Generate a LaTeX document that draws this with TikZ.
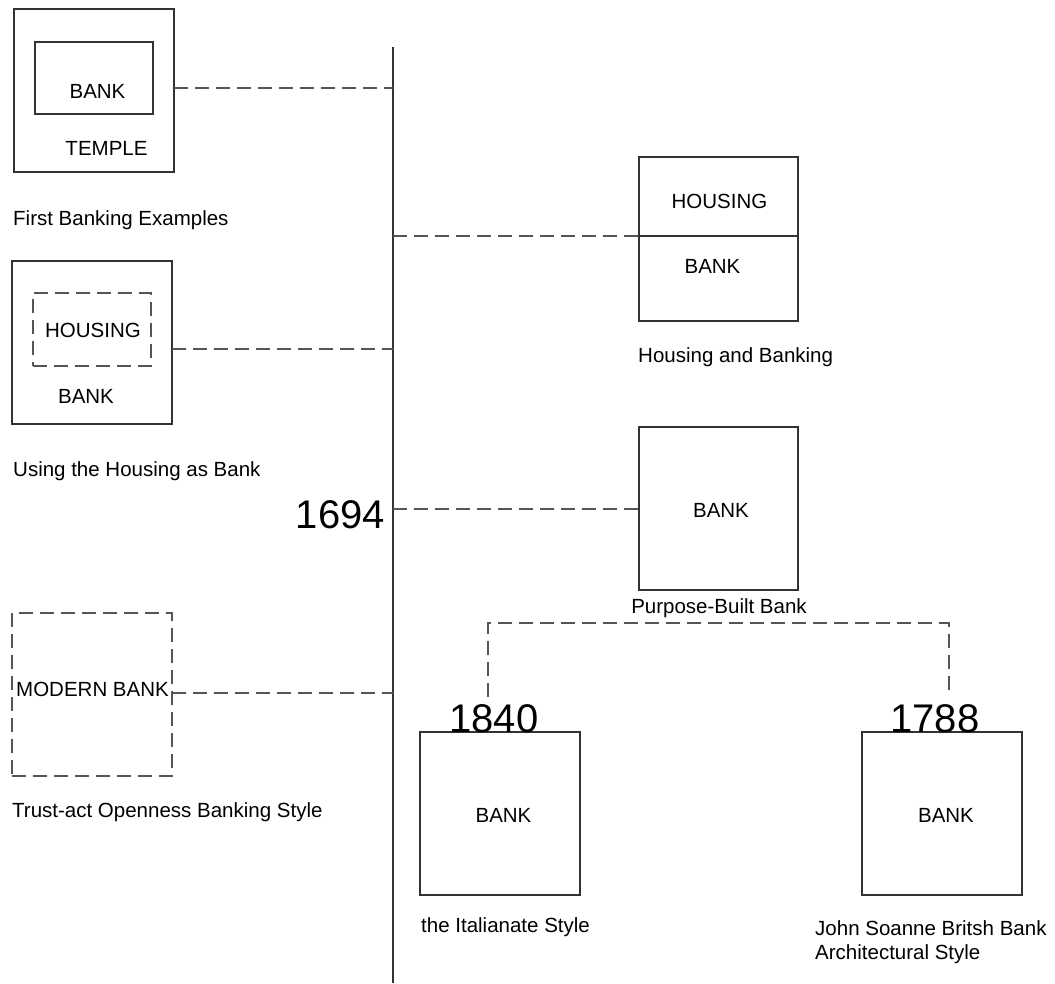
\documentclass[tikz,border=0pt]{standalone}
\usepackage{fontspec}
\setmainfont{Liberation Sans}
\definecolor{linec}{HTML}{333333}
\definecolor{dashc}{HTML}{555555}
\tikzset{
  box/.style={draw=linec, line width=1.3pt, inner sep=0pt, outer sep=0pt},
  dbox/.style={box, draw=dashc, dash pattern=on 14pt off 7pt},
  conn/.style={draw=dashc, line width=1.3pt, dash pattern=on 14pt off 7pt},
  axisline/.style={draw=linec, line width=1.3pt},
  ctr/.style={font=\fontsize{20.5}{24}\selectfont, inner sep=0pt, anchor=base},
  lbl/.style={font=\fontsize{20.5}{24}\selectfont, inner sep=0pt, anchor=base west},
  yearlbl/.style={font=\fontsize{40}{48}\selectfont, inner sep=0pt, anchor=base}
}
\begin{document}
\begin{tikzpicture}[x=1pt, y=-1pt]
\useasboundingbox (0,0) rectangle (1055,983);

% boxes
\node[box, minimum width=160, minimum height=163] (temple) at (94,90.5) {};
\node[box, minimum width=118, minimum height=72] (tbank) at (94,78) {};
\node[box, minimum width=160, minimum height=163] (hbox) at (92,342.5) {};
\node[dbox, minimum width=118, minimum height=73] (hinner) at (92,329.5) {};
\node[dbox, minimum width=160, minimum height=163] (modern) at (92,694.5) {};
\node[box, minimum width=159, minimum height=164] (hb) at (718.5,239) {};
\node[box, minimum width=159, minimum height=163] (pb) at (718.5,508.5) {};
\node[box, minimum width=160, minimum height=163] (ib) at (500,813.5) {};
\node[box, minimum width=160, minimum height=163] (sb) at (942,813.5) {};

% divider in housing/banking box
\coordinate (hbd) at (718,236);
\draw[axisline] (hb.west |- hbd) -- (hb.east |- hbd);

% texts
\node[ctr] (t1) at (97.5,98.3) {BANK};
\node[ctr] (t2) at (106.5,155) {TEMPLE};
\node[lbl] (t3) at (13,225) {First Banking Examples};
\node[ctr] (t4) at (93,337) {HOUSING};
\node[ctr] (t5) at (86,403) {BANK};
\node[lbl] (t6) at (13,476) {Using the Housing as Bank};
\node[lbl] (t7) at (16,696) {MODERN BANK};
\node[lbl] (t8) at (12,817) {Trust-act Openness Banking Style};
\node[ctr] (t9) at (719.5,208) {HOUSING};
\node[ctr] (t10) at (712.5,273) {BANK};
\node[lbl] (t11) at (638,362) {Housing and Banking};
\node[ctr] (t12) at (721,517) {BANK};
\node[ctr] (t13) at (719,613) {Purpose-Built Bank};
\node[yearlbl, anchor=base east] (y1694) at (385,528) {1694};
\node[yearlbl] (y1840) at (494,732) {1840};
\node[yearlbl] (y1788) at (935,732) {1788};
\node[ctr] (t14) at (503.5,822) {BANK};
\node[ctr] (t15) at (946,822) {BANK};
\node[lbl] (t16) at (421,932) {the Italianate Style};
\node[lbl] (t17) at (815,935) {John Soanne Britsh Bank};
\node[lbl] (t18) at (815,959) {Architectural Style};

% timeline
\coordinate (vtop) at (393,47);
\coordinate (vbot) at (393,983);
\draw[axisline] (vtop) -- (vbot);

% connectors
\coordinate (c1) at (393,88);
\coordinate (c2) at (393,236);
\coordinate (c3) at (393,349);
\coordinate (c4) at (393,509);
\coordinate (c5) at (393,693);
\draw[conn] (temple.east |- c1) -- (c1);
\draw[conn] (c2) -- (hb.west |- c2);
\draw[conn] (hbox.east |- c3) -- (c3);
\draw[conn] (c4) -- (pb.west |- c4);
\draw[conn] (modern.east |- c5) -- (c5);

% bracket
\coordinate (b1) at (488,697);
\coordinate (b2) at (949,697);
\coordinate (bt) at (700,623);
\draw[conn] (b1) -- (b1 |- bt) -- (b2 |- bt) -- (b2);
\end{tikzpicture}
\end{document}
